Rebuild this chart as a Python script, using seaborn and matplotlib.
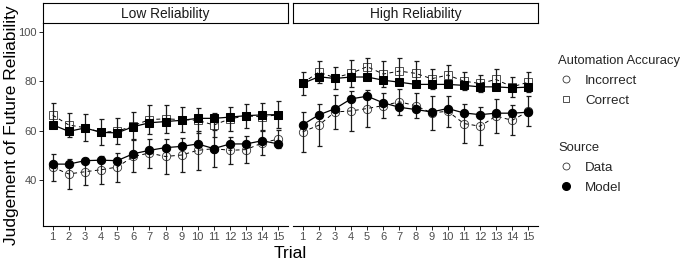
import numpy as np
import pandas as pd
import matplotlib
matplotlib.use("Agg")
import matplotlib.pyplot as plt
import seaborn as sns
from matplotlib.lines import Line2D

sns.set_theme(style="white")
plt.rcParams['font.family'] = ['Liberation Sans', 'DejaVu Sans']

trials = list(range(1, 16))
panels = ["Low Reliability", "High Reliability"]

# Low reliability
low_inc_data = [45.1, 42.4, 43.3, 44.1, 45.2, 49.5, 50.9, 49.5, 50.1, 52.0, 52.7, 52.0, 52.3, 55.0, 56.6]
low_inc_err = [5.4, 6.0, 5.5, 5.7, 5.9, 6.5, 5.9, 7.0, 7.0, 8.0, 7.5, 5.6, 5.5, 5.0, 3.5]
low_inc_model = [46.4, 46.4, 47.8, 48.0, 47.8, 50.6, 52.0, 53.1, 53.6, 54.6, 52.7, 54.6, 54.6, 55.9, 54.6]
low_cor_data = [66.3, 62.3, 61.2, 59.4, 59.7, 62.0, 64.5, 64.8, 64.5, 64.2, 62.3, 64.8, 66.0, 65.6, 66.5]
low_cor_err = [5.0, 4.8, 5.5, 5.4, 5.3, 5.5, 6.0, 5.8, 5.2, 5.0, 5.0, 5.0, 5.0, 5.5, 5.5]
low_cor_model = [62.4, 59.7, 61.1, 59.3, 59.1, 61.6, 63.2, 63.7, 64.2, 65.0, 65.0, 65.5, 66.1, 66.4, 66.5]

# High reliability
high_inc_data = [59.5, 62.2, 67.6, 68.0, 69.0, 70.2, 71.7, 70.2, 67.2, 67.9, 62.9, 61.8, 65.9, 64.2, 67.9]
high_inc_err = [8.0, 8.5, 7.0, 8.2, 7.5, 5.0, 5.3, 5.1, 7.0, 6.3, 7.8, 7.7, 6.9, 6.1, 6.0]
high_inc_model = [62.4, 66.4, 68.9, 72.9, 74.0, 71.3, 69.5, 68.6, 67.6, 69.0, 67.2, 66.5, 67.1, 67.1, 67.5]
high_cor_data = [79.3, 83.8, 81.5, 83.3, 86.0, 83.0, 84.2, 83.3, 81.1, 82.6, 80.1, 79.2, 80.8, 77.8, 79.7]
high_cor_err = [4.7, 4.6, 4.5, 5.5, 3.5, 5.3, 5.3, 5.1, 4.1, 3.9, 3.7, 3.6, 4.1, 4.1, 4.0]
high_cor_model = [79.2, 81.9, 81.2, 81.8, 81.8, 80.5, 79.7, 78.8, 78.8, 78.8, 78.4, 77.8, 77.8, 77.4, 77.7]

rows = []
series = {
    ("Low Reliability", "Incorrect"): (low_inc_data, low_inc_err, low_inc_model),
    ("Low Reliability", "Correct"): (low_cor_data, low_cor_err, low_cor_model),
    ("High Reliability", "Incorrect"): (high_inc_data, high_inc_err, high_inc_model),
    ("High Reliability", "Correct"): (high_cor_data, high_cor_err, high_cor_model),
}
for (panel, acc), (d, e, m) in series.items():
    for t, dv, ev, mv in zip(trials, d, e, m):
        rows.append(dict(Panel=panel, Accuracy=acc, Source="Data", Trial=t, Value=dv, Err=ev))
        rows.append(dict(Panel=panel, Accuracy=acc, Source="Model", Trial=t, Value=mv, Err=np.nan))
df = pd.DataFrame(rows)

W, H = 685, 262
fig = plt.figure(figsize=(W / 100, H / 100), dpi=100)

def fx(px):
    return px / W

def fy(py):
    return 1 - py / H

panel_x = [(43, 288), (293, 538)]
top, bot = 23, 226
strip_top = 3

tick_color = "#4d4d4d"
markers = {"Incorrect": "o", "Correct": "s"}
msize = {"o": 6.0, "s": 5.6}

axes = []
for i, (panel, (x0, x1)) in enumerate(zip(panels, panel_x)):
    ax = fig.add_axes([fx(x0), fy(bot), fx(x1 - x0), (bot - top) / H])
    axes.append(ax)
    for acc in ["Incorrect", "Correct"]:
        mk = markers[acc]
        sub_d = df[(df.Panel == panel) & (df.Accuracy == acc) & (df.Source == "Data")]
        sub_m = df[(df.Panel == panel) & (df.Accuracy == acc) & (df.Source == "Model")]
        sns.lineplot(data=sub_d, x="Trial", y="Value", ax=ax, color="black",
                     linestyle=(0, (4, 3.5)), linewidth=0.7, marker=mk,
                     markersize=msize[mk], markerfacecolor="none",
                     markeredgecolor="#333333", markeredgewidth=0.6,
                     errorbar=None, zorder=2)
        ax.errorbar(sub_d["Trial"], sub_d["Value"], yerr=sub_d["Err"], fmt="none",
                    ecolor="#1a1a1a", elinewidth=0.9, capsize=1.8, capthick=0.9, zorder=3)
        sns.lineplot(data=sub_m, x="Trial", y="Value", ax=ax, color="black",
                     linestyle="-", linewidth=0.9, marker=mk, markersize=msize[mk],
                     markerfacecolor="black", markeredgecolor="black",
                     errorbar=None, zorder=4)
    ax.set_xlim(0.4, 15.6)
    ax.set_ylim(21.25, 103.75)
    ax.set_xticks(trials)
    ax.set_xticklabels([str(t) for t in trials])
    ax.set_yticks([40, 60, 80, 100])
    ax.set_xlabel("")
    ax.set_ylabel("")
    ax.tick_params(axis="both", which="both", direction="out", length=3, width=0.6,
                   colors="black", labelcolor=tick_color, labelsize=8, pad=1.5)
    ax.tick_params(axis="x", bottom=True)
    for s in ["top", "right"]:
        ax.spines[s].set_visible(False)
    ax.spines["bottom"].set_color("black")
    ax.spines["bottom"].set_linewidth(0.8)
    if i == 0:
        ax.spines["left"].set_color("black")
        ax.spines["left"].set_linewidth(0.8)
        ax.tick_params(axis="y", left=True)
    else:
        ax.spines["left"].set_visible(False)
        ax.tick_params(axis="y", left=False, labelleft=False)
    ax.grid(False)
    ax.set_facecolor("white")
    if ax.get_legend():
        ax.get_legend().remove()

    # strip
    sax = fig.add_axes([fx(x0), fy(top), fx(x1 - x0), (top - strip_top) / H])
    sax.set_xticks([])
    sax.set_yticks([])
    for s in sax.spines.values():
        s.set_visible(True)
        s.set_color("black")
        s.set_linewidth(0.8)
    sax.set_facecolor("white")
    sax.text(0.5, 0.45, panel, ha="center", va="center", fontsize=9.9, color="#1a1a1a",
             transform=sax.transAxes)

fig.text(fx(12), fy(125), "Judgement of Future Reliability", rotation=90,
         ha="center", va="center", fontsize=12.5, color="black")
fig.text(fx(290), fy(254), "Trial", ha="center", va="center", fontsize=12.5, color="black")

# legends
h1 = [Line2D([], [], linestyle="none", marker="o", markersize=5, markerfacecolor="none",
             markeredgecolor="#333333", markeredgewidth=0.6),
      Line2D([], [], linestyle="none", marker="s", markersize=4.6, markerfacecolor="none",
             markeredgecolor="#333333", markeredgewidth=0.6)]
leg1 = fig.legend(h1, ["Incorrect", "Correct"], title="Automation Accuracy",
                  loc="upper left", bbox_to_anchor=(fx(553), fy(50)), frameon=False,
                  fontsize=9.6, title_fontsize=9.4, handlelength=1.2, handletextpad=0.8,
                  labelspacing=0.55, borderaxespad=0)
leg1._legend_box.align = "left"
h2 = [Line2D([], [], linestyle="none", marker="o", markersize=5, markerfacecolor="none",
             markeredgecolor="#333333", markeredgewidth=0.6),
      Line2D([], [], linestyle="none", marker="o", markersize=5.5, markerfacecolor="black",
             markeredgecolor="black")]
leg2 = fig.legend(h2, ["Data", "Model"], title="Source",
                  loc="upper left", bbox_to_anchor=(fx(553), fy(137)), frameon=False,
                  fontsize=9.6, title_fontsize=9.4, handlelength=1.2, handletextpad=0.8,
                  labelspacing=0.55, borderaxespad=0)
leg2._legend_box.align = "left"

fig.savefig("out.png", dpi=100, facecolor="white")
